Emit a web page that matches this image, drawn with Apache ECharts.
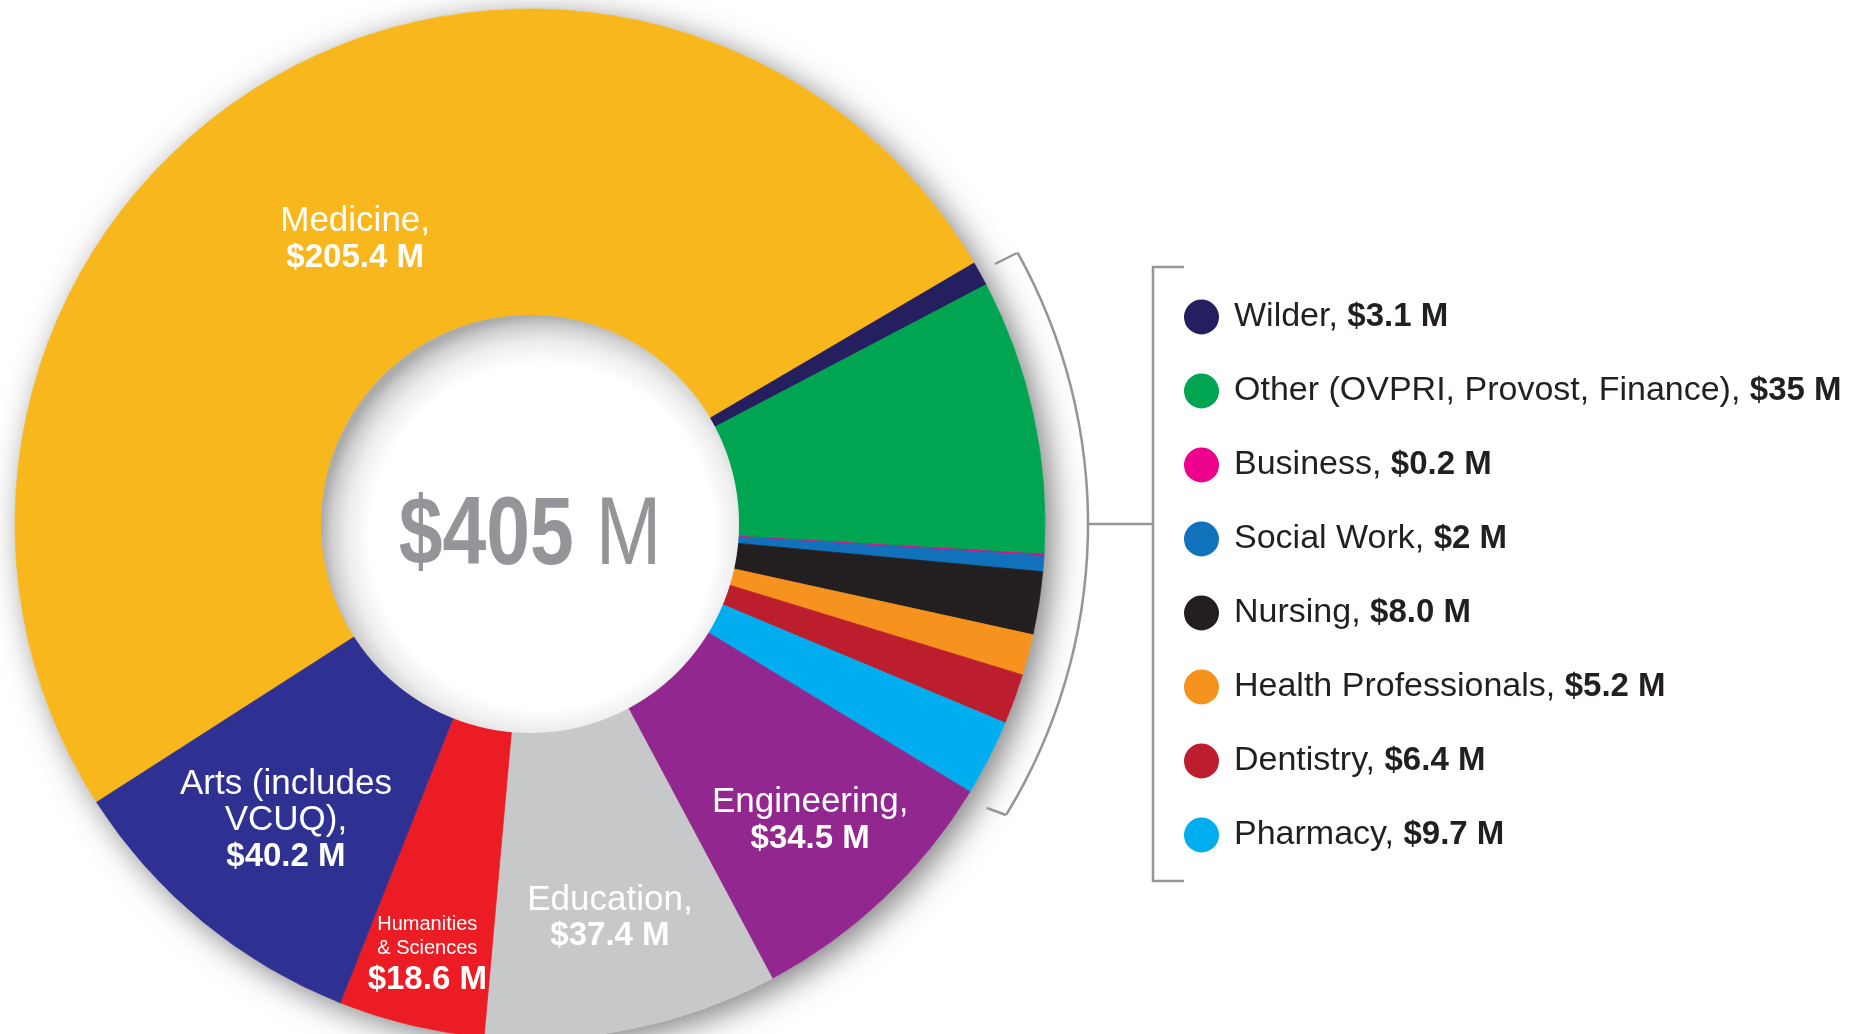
<!DOCTYPE html>
<html>
<head>
<meta charset="utf-8">
<title>Research funding by school</title>
<script src="https://cdn.jsdelivr.net/npm/echarts@6/dist/echarts.min.js"></script>
<style>
  html, body { margin: 0; padding: 0; background: #fff; }
  #chart { width: 1862px; height: 1034px; }
</style>
</head>
<body>
<div id="chart"></div>
<script>
// data, in clockwise order starting with Medicine
const schools = ['Medicine', 'Wilder', 'Other (OVPRI, Provost, Finance)', 'Business', 'Social Work', 'Nursing',
  'Health Professionals', 'Dentistry', 'Pharmacy', 'Engineering', 'Education', 'Humanities & Sciences', 'Arts (includes VCUQ)']
const funding = [205.4, 3.1, 35, 0.2, 2, 8.0, 5.2, 6.4, 9.7, 34.5, 37.4, 18.6, 40.2]
const fundingText = ['205.4', '3.1', '35', '0.2', '2', '8.0', '5.2', '6.4', '9.7', '34.5', '37.4', '18.6', '40.2']
const sliceLabels = [['Medicine,'], null, null, null, null, null, null, null, null,
  ['Engineering,'], ['Education,'], ['Humanities', '& Sciences'], ['Arts (includes', 'VCUQ),']]
const legendSchools = ['Wilder', 'Other (OVPRI, Provost, Finance)', 'Business', 'Social Work', 'Nursing',
  'Health Professionals', 'Dentistry', 'Pharmacy']
const totalAmount = '$405'
const totalUnit = 'M'

const COLORS = ['#F8B71C', '#251F60', '#00A551', '#EC008C', '#0F72BA', '#231F20', '#F6921E',
  '#BD1E2D', '#00AEEF', '#91278F', '#C7C8CA', '#EC1C24', '#2E3191']
const FONT = "'Liberation Sans', Arial, sans-serif"
const CENTER = [530, 524]
const START_ANGLE = 212.7
// how far each inside label sits from the ring's mid radius
const LABEL_SHIFT = { 0: -31, 9: 43, 10: 37, 11: 79, 12: 19 }

const total = funding.reduce((s, v) => s + v, 0)
let acc = 0
const midAngles = funding.map(v => {
  const m = START_ANGLE - (acc + v / 2) / total * 360
  acc += v
  return m
})

const pieData = schools.map((name, i) => {
  const lines = sliceLabels[i]
  const nameStyle = i === 11 ? 's' : 'n'
  return {
    name,
    value: funding[i],
    itemStyle: { color: COLORS[i], borderColor: COLORS[i], borderWidth: 0.8 },
    label: lines
      ? { show: true, formatter: lines.map(l => `{${nameStyle}|${l}}`).join('\n') + `\n{${i === 11 ? 'w' : 'v'}|$${fundingText[i]} M}` }
      : { show: false }
  }
})

const chart = echarts.init(document.getElementById('chart'))
const D = Math.PI / 180

const option = {
  backgroundColor: '#fff',
  animation: false,
  legend: {
    data: legendSchools,
    orient: 'vertical',
    left: 1184,
    top: 299.5,
    padding: 0,
    icon: 'circle',
    itemWidth: 33,
    itemHeight: 33,
    itemGap: 39,
    selectedMode: false,
    formatter: name => `{n|${name}, }{v|$${fundingText[schools.indexOf(name)]} M}`,
    textStyle: {
      rich: {
        n: { fontFamily: FONT, fontSize: 34, color: '#231F20', lineHeight: 40, padding: [0, 0, 0, 11] },
        v: { fontFamily: FONT, fontWeight: 'bold', fontSize: 33, color: '#231F20', lineHeight: 40 }
      }
    }
  },
  series: [
    {
      // white ring underneath, casting the drop shadow
      type: 'pie',
      silent: true,
      center: CENTER,
      radius: [209, 515],
      label: { show: false },
      emphasis: { disabled: true },
      z: 1,
      data: [{ value: 1, itemStyle: { color: '#fff', borderWidth: 0, shadowBlur: 32, shadowColor: 'rgba(0,0,0,0.5)', shadowOffsetX: 8, shadowOffsetY: 7 } }]
    },
    {
      type: 'pie',
      center: CENTER,
      radius: [209, 515],
      startAngle: START_ANGLE,
      clockwise: true,
      avoidLabelOverlap: false,
      emphasis: { disabled: true },
      z: 2,
      label: {
        position: 'inside',
        color: '#fff',
        rich: {
          n: { fontFamily: FONT, fontSize: 35, color: '#fff', lineHeight: 36 },
          s: { fontFamily: FONT, fontSize: 20, color: '#fff', lineHeight: 24 },
          v: { fontFamily: FONT, fontWeight: 'bold', fontSize: 33, color: '#fff', lineHeight: 36 },
          w: { fontFamily: FONT, fontWeight: 'bold', fontSize: 33, color: '#fff', lineHeight: 38 }
        }
      },
      labelLine: { show: false },
      labelLayout: params => {
        const shift = LABEL_SHIFT[params.dataIndex] || 0
        const a = midAngles[params.dataIndex] * D
        return { dx: shift * Math.cos(a), dy: -shift * Math.sin(a) }
      },
      data: pieData
    },
    {
      // the hole, shaded at its upper left edge
      type: 'pie',
      silent: true,
      center: CENTER,
      radius: [0, 209],
      label: { show: false },
      emphasis: { disabled: true },
      z: 3,
      data: [{
        value: 1,
        itemStyle: {
          borderWidth: 0,
          color: {
            type: 'radial', x: 0.53, y: 0.53, r: 0.53,
            colorStops: [
              { offset: 0, color: '#ffffff' },
              { offset: 0.78, color: '#ffffff' },
              { offset: 0.88, color: '#ededed' },
              { offset: 0.95, color: '#d0d0d0' },
              { offset: 1, color: '#acacac' }
            ]
          }
        }
      }]
    }
  ],
  graphic: [
    {
      type: 'text', x: CENTER[0], y: CENTER[1] + 14, z: 100, scaleX: 0.82,
      style: {
        text: `{a|${totalAmount}}{b| ${totalUnit}}`,
        align: 'center', verticalAlign: 'middle',
        rich: {
          a: { fontFamily: FONT, fontWeight: 'bold', fontSize: 96, fill: '#939598' },
          b: { fontFamily: FONT, fontSize: 96, fill: '#939598' }
        }
      }
    },
    {
      type: 'arc', z: 100,
      shape: { cx: CENTER[0], cy: CENTER[1], r: 558, startAngle: -29.1 * D, endAngle: 31.4 * D },
      style: { stroke: '#939598', lineWidth: 2.5, fill: null }
    },
    { type: 'polyline', z: 100, shape: { points: [[995, 264], [1017, 253]] }, style: { stroke: '#939598', lineWidth: 2.5, fill: null } },
    { type: 'polyline', z: 100, shape: { points: [[987, 808], [1006, 815]] }, style: { stroke: '#939598', lineWidth: 2.5, fill: null } },
    { type: 'polyline', z: 100, shape: { points: [[1088, 524], [1153, 524]] }, style: { stroke: '#939598', lineWidth: 2.5, fill: null } },
    { type: 'polyline', z: 100, shape: { points: [[1184, 267], [1153, 267], [1153, 881], [1184, 881]] }, style: { stroke: '#939598', lineWidth: 2.5, fill: null } }
  ]
}

chart.setOption(option)
window.addEventListener('resize', () => chart.resize())
</script>
</body>
</html>
